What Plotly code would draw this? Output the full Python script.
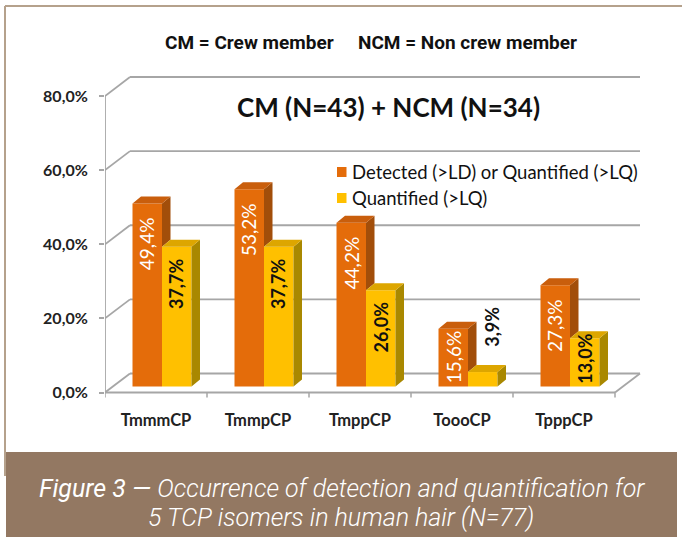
import plotly.graph_objects as go

# ---------------- data ----------------
categories = ["TmmmCP", "TmmpCP", "TmppCP", "ToooCP", "TpppCP"]
detected = [0.494, 0.532, 0.442, 0.156, 0.273]
quantified = [0.377, 0.377, 0.260, 0.039, 0.130]
series_names = ["Detected (>LD) or Quantified (>LQ)", "Quantified (>LQ)"]
y_ticks = [0.0, 0.2, 0.4, 0.6, 0.8]
subtitle_left = "CM = Crew member"
subtitle_right = "NCM = Non crew member"
chart_title = "CM (N=43) + NCM (N=34)"
caption_lead = "Figure 3 \u2014 "
caption_line1 = "Occurrence of detection and quantification for"
caption_line2 = "5 TCP isomers in human hair (N=77)"

# ---------------- styles / geometry ----------------
FIG_W, FIG_H = 682, 543
L, R, T, B = 105, 30, 60, 141
PW, PH = FIG_W - L - R, FIG_H - T - B
CAT_PX = 102.0          # pixels per category
PPU = 370.6             # pixels per 1.0 (100 %)
ZERO_PX = 392.5         # pixel row of the front 0 line

X_RANGE = [-0.5, -0.5 + PW / CAT_PX]
Y_RANGE = [-(FIG_H - B - ZERO_PX) / PPU, (ZERO_PX - T) / PPU]

ORANGE = dict(front="#E46C0A", top="#C95E0C", side="#A24E0A")
YELLOW = dict(front="#FFC000", top="#DDA600", side="#A98800")
GRID = "#A6A6A6"


def dx(p):
    return p / CAT_PX


def dy(p):
    return p / PPU


def pxx(p):
    return (p - L) / PW


def pxy(p):
    return (FIG_H - B - p) / PH


BACK_X, BACK_Y = dx(25), dy(19)     # back wall offset
BASE = dy(6)                        # bar plane above front floor edge
SHIFT = dx(6)
BW = dx(29.5)
DDX, DDY = dx(8.5), dy(7)           # bar depth
LABEL_PX = 53                       # approx. length of a rotated data label

n = len(categories)
orange_left = [i + SHIFT - BW for i in range(n)]
yellow_left = [i + SHIFT for i in range(n)]


def faces(values, lefts, floors):
    sx, sy, tx, ty = [], [], [], []
    for v, xl, fl in zip(values, lefts, floors):
        xr = xl + BW
        top = BASE + v
        sx += [xr, xr, xr + DDX, xr + DDX, xr, None]
        sy += [fl, top, top + DDY, fl + DDY, fl, None]
        tx += [xl, xr, xr + DDX, xl + DDX, xl, None]
        ty += [top, top, top + DDY, top + DDY, top, None]
    return sx, sy, tx, ty


fig = go.Figure()

series = [
    (detected, orange_left, [BASE + q for q in quantified], ORANGE, series_names[0]),
    (quantified, yellow_left, [BASE] * n, YELLOW, series_names[1]),
]
for vals, lefts, floors, col, name in series:
    fig.add_trace(go.Bar(
        x=[l + BW / 2 for l in lefts], y=vals, base=BASE, width=BW,
        marker=dict(color=col["front"], line=dict(width=0)),
        name=name, showlegend=False,
        hovertemplate="%{y:.1%}<extra>" + name + "</extra>",
    ))
for vals, lefts, floors, col, name in series:
    sx, sy, tx, ty = faces(vals, lefts, floors)
    fig.add_trace(go.Scatter(x=sx, y=sy, mode="lines", fill="toself",
                             fillcolor=col["side"], line=dict(width=0),
                             hoverinfo="skip", showlegend=False))
    fig.add_trace(go.Scatter(x=tx, y=ty, mode="lines", fill="toself",
                             fillcolor=col["top"], line=dict(width=0),
                             hoverinfo="skip", showlegend=False))

# ---------------- walls / axes as shapes ----------------
shapes = []
line_style = dict(color=GRID, width=1.8)
x_end = -0.5 + n
for v in y_ticks:
    shapes.append(dict(type="line", xref="x", yref="y", layer="below",
                       x0=-0.5, y0=v, x1=-0.5 + BACK_X, y1=v + BACK_Y, line=line_style))
    shapes.append(dict(type="line", xref="x", yref="y", layer="below",
                       x0=-0.5 + BACK_X, y0=v + BACK_Y, x1=x_end + BACK_X, y1=v + BACK_Y,
                       line=line_style))
shapes.append(dict(type="line", xref="x", yref="y", layer="below",
                   x0=-0.5, y0=0, x1=-0.5, y1=y_ticks[-1], line=line_style))
shapes.append(dict(type="line", xref="x", yref="y", layer="below",
                   x0=-0.5, y0=0, x1=x_end, y1=0, line=line_style))
shapes.append(dict(type="line", xref="x", yref="y", layer="below",
                   x0=x_end, y0=0, x1=x_end + BACK_X, y1=BACK_Y, line=line_style))
for i in range(n + 1):
    xb = -0.5 + i
    shapes.append(dict(type="line", xref="x", yref="y", layer="below",
                       x0=xb, y0=0, x1=xb, y1=-dy(5), line=dict(color=GRID, width=1.5)))

# frame + caption box
FRAME = "#B5A18C"
shapes.append(dict(type="line", xref="paper", yref="paper",
                   x0=pxx(5), y0=pxy(6), x1=pxx(682), y1=pxy(6), line=dict(color=FRAME, width=2)))
shapes.append(dict(type="line", xref="paper", yref="paper",
                   x0=pxx(5), y0=pxy(6), x1=pxx(5), y1=pxy(476), line=dict(color=FRAME, width=2)))
shapes.append(dict(type="rect", xref="paper", yref="paper",
                   x0=pxx(6), y0=pxy(452), x1=pxx(677), y1=pxy(537),
                   fillcolor="#937862", line=dict(width=0)))

# legend squares
for k, col in enumerate([ORANGE, YELLOW]):
    cy = 172 + 26 * k
    shapes.append(dict(type="rect", xref="paper", yref="paper",
                       x0=pxx(337), x1=pxx(346.5), y0=pxy(cy - 5), y1=pxy(cy + 5),
                       fillcolor=col["front"], line=dict(width=0)))

# ---------------- annotations ----------------
ann = []


def fmt(v):
    return f"{v * 100:.1f}%".replace(".", ",")


def inside_label(x, v, gap, font):
    if v * PPU >= LABEL_PX + gap + 2:
        return dict(x=x, y=BASE + v - dy(gap), xref="x", yref="y", text=fmt(v),
                    textangle=-90, showarrow=False, xanchor="center", yanchor="top",
                    font=font)
    return dict(x=x, y=BASE + dy(1), xref="x", yref="y", text=fmt(v),
                textangle=-90, showarrow=False, xanchor="center", yanchor="bottom",
                font=font)


white_font = dict(family="Lato", size=19, color="white")
black_font = dict(family="Lato", size=18, color="#111111", weight="bold")
for i in range(n):
    ann.append(inside_label(orange_left[i] + BW / 2, detected[i], 12, white_font))
    q = quantified[i]
    if q * PPU >= 30:
        ann.append(inside_label(yellow_left[i] + BW / 2, q, 9, black_font))
    else:
        ann.append(dict(x=yellow_left[i] + BW / 2 + dx(9), y=BASE + q + dy(23), xref="x", yref="y",
                        text=fmt(q), textangle=-90, showarrow=False,
                        xanchor="center", yanchor="bottom", font=black_font))

# legend text
for k, name in enumerate(series_names):
    ann.append(dict(x=pxx(350), y=pxy(172 + 26 * k), xref="paper", yref="paper",
                    text=name, showarrow=False, xanchor="left", yanchor="middle",
                    font=dict(family="Lato", size=18.5, color="#111111")))

# titles
ann.append(dict(x=pxx(389), y=pxy(107), xref="paper", yref="paper", text=chart_title,
                showarrow=False, xanchor="center", yanchor="middle",
                font=dict(family="Lato", size=26, color="#111111", weight="bold")))
sub_font = dict(family="Roboto", size=19, color="#111111", weight="bold")
ann.append(dict(x=pxx(163), y=pxy(43), xref="paper", yref="paper", text=subtitle_left,
                showarrow=False, xanchor="left", yanchor="middle", font=sub_font))
ann.append(dict(x=pxx(356), y=pxy(43), xref="paper", yref="paper", text=subtitle_right,
                showarrow=False, xanchor="left", yanchor="middle", font=sub_font))

# caption
cap_font = dict(family="Roboto", size=25, color="white", style="italic", weight=300)
ann.append(dict(x=pxx(342), y=pxy(488), xref="paper", yref="paper",
                text=f'<span style="font-weight:400">{caption_lead}</span>{caption_line1}',
                showarrow=False, xanchor="center", yanchor="middle", font=cap_font))
ann.append(dict(x=pxx(341), y=pxy(517), xref="paper", yref="paper",
                text=caption_line2,
                showarrow=False, xanchor="center", yanchor="middle", font=cap_font))

fig.update_layout(
    width=FIG_W, height=FIG_H,
    margin=dict(l=L, r=R, t=T, b=B, pad=0),
    paper_bgcolor="white", plot_bgcolor="white",
    barmode="overlay", separators=",.",
    showlegend=False,
    shapes=shapes, annotations=ann,
    xaxis=dict(range=X_RANGE, showgrid=False, zeroline=False, showline=False,
               tickmode="array", tickvals=list(range(n)), ticktext=categories,
               ticks="", ticklabelstandoff=6,
               tickfont=dict(family="Lato", size=16.5, color="#222222", weight="bold"),
               fixedrange=True),
    yaxis=dict(range=Y_RANGE, showgrid=False, zeroline=False, showline=False,
               tickmode="array", tickvals=y_ticks, tickformat=".1%",
               ticks="outside", ticklen=5, tickcolor=GRID, tickwidth=1.5,
               ticklabelstandoff=8,
               tickfont=dict(family="Lato", size=16, color="#222222", weight="bold"),
               fixedrange=True),
)

fig.write_html("out.html", config={"displayModeBar": False},
               post_script="document.body.style.margin='0';document.body.style.overflow='hidden';")
